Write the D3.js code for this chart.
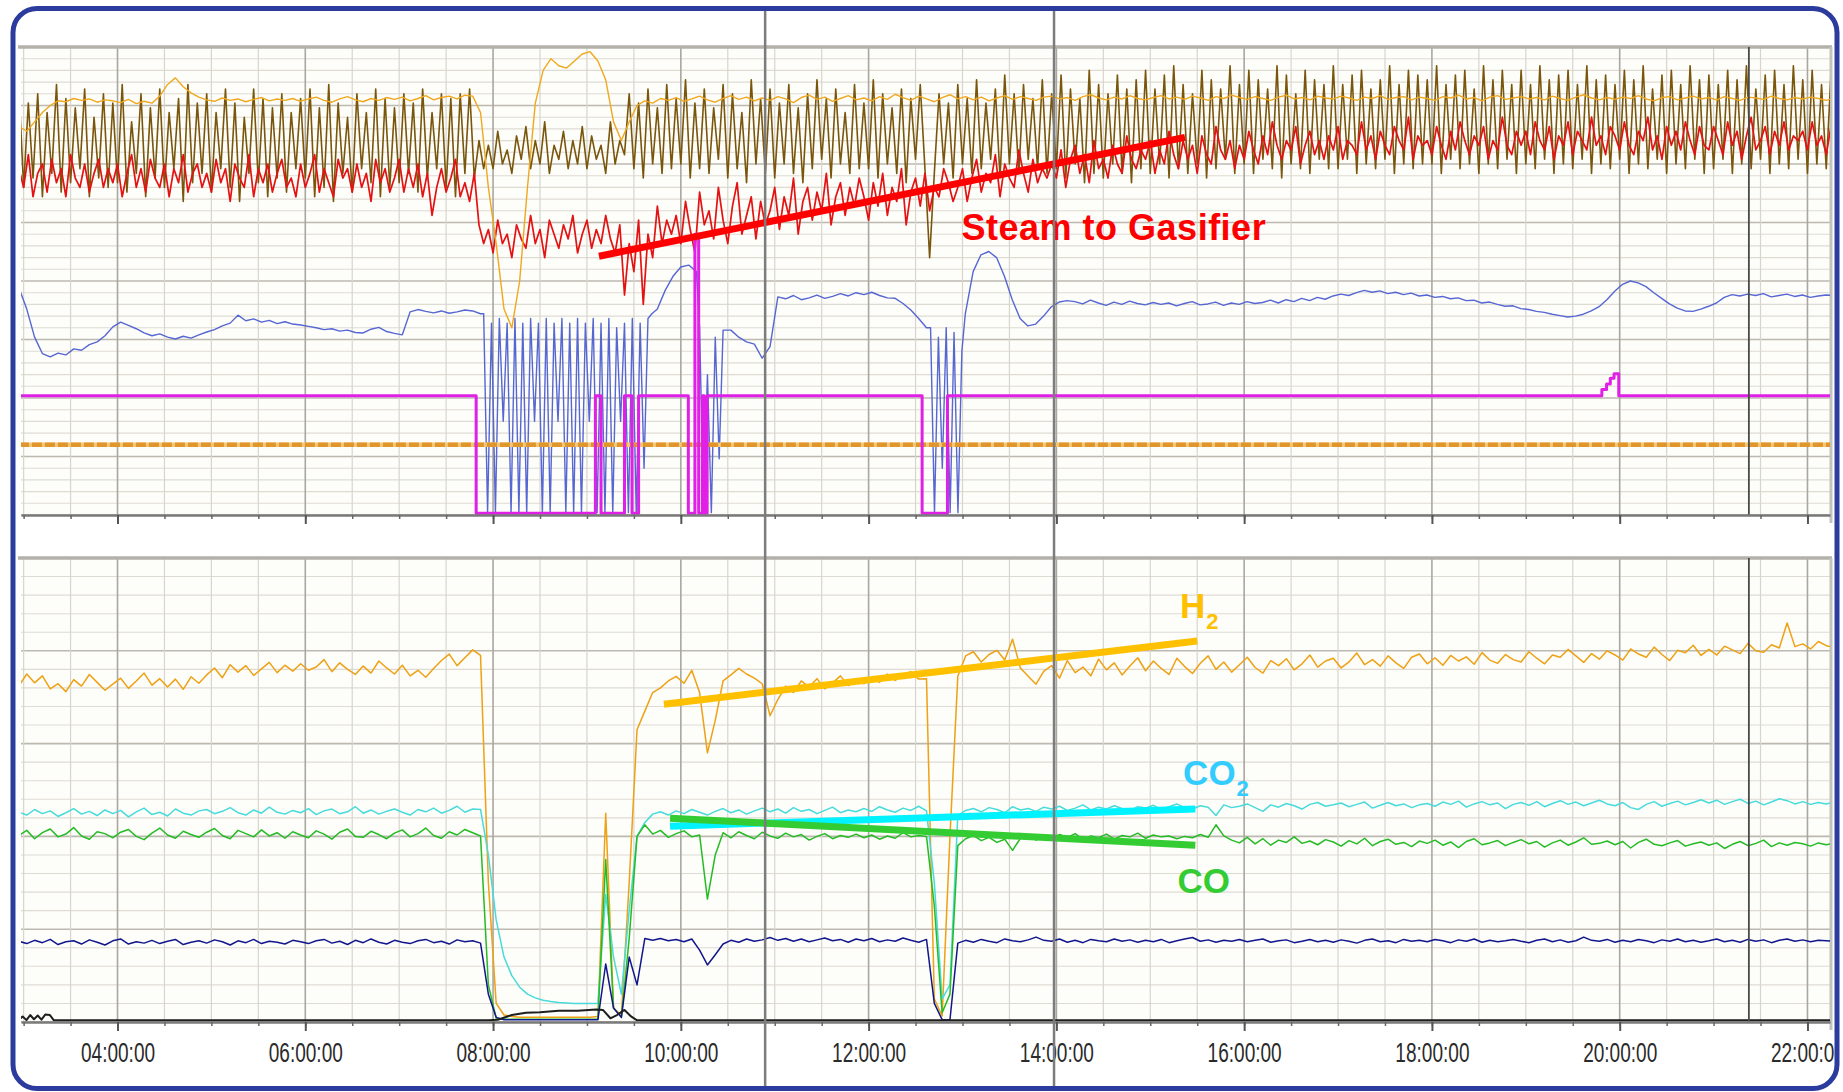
<!DOCTYPE html>
<html>
<head>
<meta charset="utf-8">
<script src="https://cdn.jsdelivr.net/npm/d3@7"></script>
<style>
  body { margin: 0; background: #fff; }
  svg { display: block; }
</style>
</head>
<body>
<div id="container"></div>
<script>
const width = 1843;
const height = 1092;

// time axis (hours of day)
const labelHours = [4, 6, 8, 10, 12, 14, 16, 18, 20, 22];
const tickLabels = ["04:00:00", "06:00:00", "08:00:00", "10:00:00", "12:00:00",
                    "14:00:00", "16:00:00", "18:00:00", "20:00:00", "22:00:00"];
const cursorHours = [10.898, 13.975];
const markerHour = 21.376;

// ---------- upper panel (percent of scale) ----------
// brown, every 3 min from 02:57
const brownVals = [
  91,70,88,72,90,68,86,73,92,69,89,71,87,74,91,68,85,72,90,70,
  88,71,92,69,84,73,90,68,87,72,91,70,86,74,89,67,92,71,88,73,
  90,69,86,74,91,70,88,67,85,73,91,71,89,68,87,72,90,69,86,74,
  89,72,91,68,87,70,92,67,88,73,85,69,90,74,86,71,91,68,89,70,
  87,71,90,73,88,69,91,72,86,74,90,70,89,68,90,73,91,72,80,74,
  79,74,82,75,78,73,81,76,83,74,80,75,84,73,79,76,82,74,80,75,
  83,74,81,76,79,73,84,75,80,77,90,74,88,72,91,75,87,73,92,74,
  89,75,93,72,88,74,91,73,87,76,92,72,90,74,86,71,93,75,89,73,
  91,72,88,75,92,73,87,71,90,74,93,76,89,72,91,75,86,73,92,74,
  88,74,93,72,90,75,87,73,91,71,89,76,92,74,55,73,90,75,88,72,
  92,75,89,73,93,74,88,76,91,72,94,75,90,73,92,76,89,74,93,73,
  90,74,94,72,91,75,89,71,95,73,92,72,90,75,94,73,91,71,93,74,
  95,73,91,75,94,72,96,74,92,73,90,75,95,72,93,74,91,76,96,73,
  92,75,95,73,93,76,91,74,96,72,94,75,90,74,95,73,93,76,92,74,
  96,74,92,76,94,73,95,75,91,74,93,76,96,73,92,75,95,74,94,75,
  93,75,96,73,92,76,94,74,95,75,91,73,96,75,93,74,95,76,92,73,
  95,75,92,74,96,76,93,73,94,75,95,74,92,76,96,73,93,75,94,74,
  92,76,95,73,93,75,96,74,91,76,94,73,95,75,92,74,96,76,93,73,
  94,74,92,76,95,73,93,75,96,74,91,76,94,73,95,75,92,74,96,76,
  93,73,95,75,92,74,94
];
// steam to gasifier (red), every 3 min
const steamVals = [
  74,70,77,68,73,75,69,76,71,74,68,77,72,70,75,69,73,76,70,74,
  71,75,68,73,77,70,74,69,76,72,70,75,68,74,71,77,69,73,75,70,
  73,69,76,71,74,67,75,72,70,77,68,74,71,75,69,73,76,70,72,68,
  75,70,73,77,69,74,71,68,76,72,74,69,75,70,73,67,76,71,74,69,
  72,76,69,74,70,75,68,73,64,70,74,69,72,76,68,71,67,73,62,58,
  61,56,63,58,60,55,62,59,57,64,58,61,55,63,60,57,62,59,64,56,
  60,63,57,61,58,64,59,56,62,47,58,52,63,45,60,55,66,58,63,60,
  64,58,67,61,56,69,62,65,59,70,63,58,66,71,60,64,68,59,67,62,
  65,70,61,68,64,72,60,67,70,63,69,65,73,62,68,71,64,70,66,72,
  68,63,71,66,73,64,70,67,74,62,69,72,66,73,65,70,68,74,71,67,
  70,74,67,72,76,69,73,71,77,68,75,72,70,78,73,69,76,71,74,72,
  75,72,78,70,76,79,73,77,71,80,74,76,72,79,75,73,81,76,74,78,
  76,80,73,78,75,82,77,74,80,76,79,73,81,77,75,83,78,76,80,74,
  79,76,82,78,75,81,77,84,79,76,80,78,83,75,79,82,77,80,76,81,
  78,83,76,80,79,77,84,78,81,76,82,79,77,83,80,78,85,76,81,79,
  80,77,83,79,76,82,78,84,80,77,81,79,83,76,80,78,85,79,77,82,
  79,82,77,84,80,78,83,76,81,79,84,77,82,80,78,85,79,81,77,83,
  81,78,84,79,77,82,80,85,78,81,76,83,79,82,78,84,80,77,83,79,
  78,83,80,77,84,79,82,76,81,85,78,80,83,77,82,79,84,78,81,80,
  82,78,84,79,81,77,83
];
// thin gold trace, every 5 min
const goldVals = [
  83,82,84,86,87.5,88.5,88.3,89,88.6,88.9,88.2,88.7,
  88.5,88.1,88.8,87.9,88.4,88.0,89.5,92,93.4,91.5,90.2,89.3,
  88.7,88.4,89.1,88.6,88.9,88.3,88.8,89.2,88.5,88.9,88.6,89.0,
  88.4,88.9,89.3,88.6,88.2,88.9,89.4,88.7,88.3,89.0,88.6,89.2,
  88.8,89.3,88.5,89.0,89.6,88.7,89.2,89.5,88.9,89.7,89.5,86,
  70,58,44,40,50,70,88,95,97.5,96,95.5,97,
  98.5,99,97,93,84,80,84,87.5,88.5,88,89,88.6,
  89.2,88.4,88.9,89.5,88.7,88.2,89.0,89.6,88.8,89.3,88.5,89.1,
  88.6,89.4,88.9,88.1,89.2,89.7,88.8,89.3,88.4,89.0,89.6,88.7,
  89.1,88.5,89.4,88.8,89.9,89.2,88.6,89.5,88.9,88.3,89.2,89.8,
  88.9,89.4,88.7,89.3,88.5,89.1,89.6,88.8,89.4,89.0,88.6,89.3,
  89.5,88.9,89.2,88.6,89.4,89.8,89.1,88.7,89.3,88.9,89.6,89.0,
  88.7,89.2,89.6,88.9,89.3,88.8,89.5,89.1,88.6,89.4,89.0,89.7,
  89.2,88.8,89.4,89.0,88.6,89.3,89.7,88.9,89.2,88.7,89.5,89.1,
  88.9,89.5,89.1,88.6,89.3,89.0,89.6,88.8,89.2,89.4,88.7,89.3,
  89.0,88.6,89.4,89.1,89.7,88.9,89.2,88.5,89.3,89.6,88.8,89.1,
  89.4,88.9,89.2,88.7,89.5,89.0,88.6,89.3,89.8,89.1,88.7,89.2,
  88.8,89.3,89.0,89.6,88.9,88.5,89.2,89.4,88.7,89.1,89.5,88.9,
  89.2,88.7,89.4,89.0,88.6,89.3,89.1,88.8,89.5,89.0,88.7,89.2,
  88.9,89.3,89.0,88.6,89.1
];
// blue trace, in pieces (start hour, step in minutes, values)
const blueA = [48.5,44,38,34.5,33.8,34.6,34.2,35.5,35.2,36.4,37.0,38.3,
  40.2,41.2,40.5,39.8,38.9,38.3,38.7,38.0,37.6,38.2,37.8,38.5,
  39.1,39.6,40.4,41.0,42.7,41.5,41.9,41.2,41.6,40.9,41.3,40.8,
  40.6,40.3,40.0,39.6,39.8,39.3,39.5,39.0,38.9,39.7,40.1,39.2,
  38.8,38.5,43.4,43.9,43.5,43.2,43.6,43.1,43.4,43.8,43.6,43.0];
const blueP1 = [43,0.5,41,0.5,42,20,41,0.5,42,0.5,41,0.5,42,20,41,0.5,42,0.5,41,20,
  42,0.5,41,0.5,42,0.5,41,20,42,0.5,41,0.5,42,0.5,40,20,41,0.5,42,0.5,41,10,42,43];
const blueB = [44,48,51,53,53.4,52];
const blueP2 = [40,0.5,30,0.5,38,12];
const blueC = [39.5,39.5,38,37,36.5,33.5,36,46.6,46.2,46.9,46.0,46.4,47.0,46.3,46.7,
  47.3,46.8,47.5,47.1,47.6,46.9,46.4,46.3,45.2,43.8,42,40];
const blueP3 = [40,0.5,38,10,40,0.5,39,0.5,35];
const blueD = [43,52,55.6,56.3,55,51,46,42,40.4,40.8,42.5,44.5,45.5,45.8,
  45.6,45.1,45.9,45.3,44.8,45.5,45.0,45.7,45.2,44.9,45.4,45.0,
  45.3,44.7,45.2,45.6,44.9,45.1,45.5,44.8,45.3,45.0,45.6,45.2,
  45.4,45.9,45.3,46.0,45.6,46.3,45.8,46.5,46.1,46.8,47.2,46.9,
  47.5,48.0,47.6,47.9,47.3,47.6,47.1,47.4,46.8,47.0,46.5,46.7,
  46.2,46.4,45.8,45.9,45.3,45.5,45.0,44.6,44.7,44.1,43.9,43.5,
  43.3,42.9,42.6,42.3,42.5,42.9,43.6,44.5,46.0,47.8,49.3,50.0,
  49.6,48.8,47.5,46.3,45.1,44.2,43.6,43.5,44.0,44.6,45.3,46.5,
  47.1,46.8,47.2,46.9,47.3,46.6,46.9,47.2,46.7,47.0,46.5,46.8,
  47.0,46.9];
// magenta on/off trace [hour, value], stepped
const magentaPts = [[2.95,25.5],[7.82,0.4],[9.09,25.5],[9.15,0.4],[9.4,25.5],[9.48,0.4],
  [9.55,25.5],[10.08,0.4],[10.15,60],[10.19,0.4],[10.23,25.5],[10.25,0.4],[10.28,25.5],
  [12.57,0.4],[12.84,25.5],[19.77,25.5],[19.81,26.8],[19.86,28],[19.9,29.2],[19.94,30.2],
  [19.99,25.5],[22.3,25.5]];
const orangePts = [[2.95,15],[22.3,15]];

// ---------- lower panel (percent of scale) ----------
// every 5 min from 02:57
const h2Vals = [
  72.5,75.0,73.1,74.6,71.8,72.9,71.2,73.8,72.4,74.9,73.2,71.5,
  72.8,74.1,71.9,73.5,75.2,72.6,74.0,72.2,73.9,71.7,74.4,73.0,
  74.8,76.3,74.2,77.0,75.4,76.8,74.7,76.1,77.5,75.3,76.9,75.6,
  77.2,75.8,76.5,78.1,75.5,77.4,76.0,74.9,76.7,75.2,77.8,76.3,
  75.0,76.9,74.6,75.8,74.3,76.2,77.9,79.3,76.8,78.5,80.2,79.0,
  30,4,1.5,1.2,1.0,1.0,1.0,1.0,1.0,1.0,1.0,1.0,
  1.0,1.0,1.2,45,3,1.5,30,63,67,71,72,73.5,
  74.5,73.0,75.8,71.0,58.0,65.0,73.5,74.8,76.2,75.0,74.1,72.9,
  66.0,69.5,72.4,71.0,73.5,72.2,74.0,71.8,73.1,74.6,72.5,73.8,
  72.9,74.3,73.2,75.0,73.6,74.8,75.5,73.9,74.0,5.0,1.3,40,
  74.5,78.9,79.8,77.6,79.2,80.1,78.0,82.5,76.3,74.5,72.8,75.6,
  76.8,74.1,77.9,75.3,76.5,74.6,78.2,75.9,77.4,74.8,76.7,78.5,
  75.7,77.8,76.2,74.9,78.4,76.6,75.1,77.3,78.9,76.0,77.6,75.4,
  77.0,78.6,76.4,75.2,77.9,76.8,78.3,75.9,77.2,79.1,76.5,77.8,
  78.4,76.3,77.6,79.5,77.0,78.1,76.7,78.9,77.4,76.2,78.6,79.3,
  77.2,78.5,76.9,79.0,77.8,78.7,77.1,79.6,78.0,77.3,79.2,78.1,
  77.6,79.8,78.4,77.2,79.1,78.6,80.3,78.9,77.5,79.4,78.2,80.0,
  79.1,78.0,80.4,79.3,78.6,80.8,79.2,77.9,80.1,79.6,81.2,79.0,
  80.3,79.1,81.0,80.2,79.4,81.6,80.0,79.7,81.3,80.6,86.0,80.9,
  81.5,80.4,82.0,81.1,80.7
];
const co2Vals = [
  45.2,44.6,45.8,44.9,45.5,44.3,45.1,46.0,44.8,45.4,44.5,45.7,
  44.9,45.6,44.2,45.3,46.1,44.7,45.2,44.4,45.9,45.0,44.6,45.5,
  45.8,44.9,45.4,46.2,45.1,44.6,45.7,45.0,46.3,45.2,44.8,45.6,
  45.1,46.0,44.7,45.5,45.9,44.9,45.3,46.4,45.0,45.7,44.8,45.4,
  45.9,45.2,44.6,45.8,45.3,46.1,45.0,45.6,46.5,45.2,45.9,45.8,
  36,22,14,10,7.5,6,5.2,4.7,4.4,4.2,4.1,4.0,
  4.0,4.0,4.0,27.5,14,6,24,40,43,44.8,45.3,44.6,
  45.5,44.9,45.8,45.2,44.6,45.4,46.0,45.1,45.7,44.8,45.5,46.1,
  45.3,45.9,45.0,46.2,45.4,45.8,44.9,45.6,46.3,45.1,45.7,45.3,
  46.0,45.4,46.4,45.7,45.2,46.1,45.6,46.5,45.5,30,5,8,
  44.5,45.6,46.0,45.3,46.2,45.8,45.1,46.4,45.7,46.0,45.4,46.3,
  45.9,46.5,45.6,46.1,46.8,45.7,46.3,45.9,46.6,46.0,45.5,46.4,
  46.1,46.7,45.8,46.4,47.0,46.2,45.9,46.6,46.3,44.5,46.8,46.2,
  46.5,47.0,46.2,45.4,46.8,46.3,47.1,46.6,45.9,46.9,47.3,46.5,
  46.8,47.2,46.4,46.9,47.4,46.1,46.7,47.3,46.6,47.0,46.2,46.8,
  47.1,46.5,47.4,46.9,47.6,46.3,47.0,47.5,46.8,47.2,46.0,46.9,
  47.3,46.7,47.5,46.4,47.1,47.7,46.9,47.4,46.6,47.2,47.8,47.0,
  46.6,47.3,46.2,45.8,46.9,47.5,46.5,47.1,47.6,46.8,47.3,47.9,
  47.2,47.8,46.9,47.5,48.0,47.1,47.6,46.8,47.4,48.1,47.7,47.0,
  47.5,46.9,47.3,47.0,47.4
];
const coVals = [
  40.2,41.3,39.5,40.8,41.6,39.9,40.5,41.9,40.1,39.4,41.0,40.6,
  39.7,40.9,41.5,40.0,39.3,40.7,41.8,40.3,39.6,41.1,40.4,39.8,
  40.9,41.7,40.2,39.5,41.3,40.6,39.9,41.4,40.1,40.8,39.6,41.0,
  40.3,39.7,41.2,40.5,39.4,40.9,41.6,40.0,39.8,41.1,40.4,39.5,
  40.7,41.4,39.9,40.6,41.8,40.2,39.6,41.0,40.3,41.5,40.8,40.1,
  8,0.8,0.6,0.6,0.6,0.6,0.6,0.6,0.6,0.6,0.6,0.6,
  0.6,0.6,0.6,35,3,1,18,40,42.5,40.5,41.3,39.8,
  40.6,41.2,39.9,40.3,26.5,36,40.8,39.7,41.0,40.2,39.5,40.9,
  40.1,39.6,40.7,39.9,40.4,39.2,40.0,40.6,39.5,40.2,39.8,40.5,
  39.7,40.3,39.4,40.1,39.6,40.8,39.9,40.2,40.0,25,2,6,
  38,39.5,40.2,39.1,39.8,38.7,39.4,37.0,39.6,40.3,39.2,40.0,
  39.5,40.4,39.8,40.6,39.3,40.1,39.7,40.5,39.4,40.2,39.9,40.7,
  39.6,40.3,39.9,40.1,39.5,40.0,39.7,40.4,39.8,42.5,40.1,39.2,
  38.6,39.8,38.4,39.5,38.1,39.2,38.7,39.9,38.5,39.0,38.2,39.3,
  38.8,37.9,39.1,38.4,39.6,38.0,38.9,39.4,38.3,38.7,37.8,39.0,
  38.5,39.2,38.1,38.8,37.6,38.9,39.5,38.2,38.6,39.1,38.0,38.7,
  39.3,38.4,38.9,37.7,38.6,39.2,38.1,38.8,39.7,38.3,38.5,39.0,
  38.2,38.9,37.5,38.7,39.4,38.3,38.0,38.6,39.1,37.9,38.4,38.8,
  38.1,38.6,37.4,38.3,38.9,38.0,38.5,39.2,37.8,38.6,38.1,38.7,
  38.4,37.9,38.6,38.2,38.5
];
const navyVals = [
  17.4,16.9,17.6,17.1,17.8,16.7,17.3,17.5,16.8,17.7,17.2,16.6,
  17.5,17.9,16.8,17.3,17.0,17.6,16.9,17.4,17.8,16.7,17.2,17.5,
  17.0,17.7,17.3,16.6,17.5,17.1,17.8,16.9,17.4,17.2,16.8,17.6,
  17.3,16.9,17.5,17.8,17.0,17.4,16.7,17.6,17.1,17.9,17.2,16.8,
  17.6,17.2,16.9,17.5,17.8,17.1,17.4,16.8,17.7,17.3,17.5,17.0,
  6,1,0.5,0.5,0.5,0.5,0.5,0.5,0.5,0.5,0.5,0.5,
  0.5,0.5,0.5,12.5,3,1,14,8,18,17.6,18.0,17.5,
  17.8,17.3,17.9,15.5,12.3,14.5,16.8,17.6,17.2,17.9,17.4,17.7,
  18.2,17.6,18.0,17.4,17.9,17.3,17.7,18.1,17.5,17.8,17.2,17.9,
  17.5,18.0,17.3,17.7,17.4,18.1,17.6,17.2,17.8,4,0.5,0.5,
  17.0,17.6,17.2,17.8,17.4,17.1,17.9,17.5,17.3,17.7,18.3,17.6,
  17.4,17.9,17.2,17.6,17.1,17.8,17.5,17.3,17.9,17.4,17.7,17.2,
  17.6,17.3,17.8,17.1,17.5,17.9,18.2,17.4,17.7,17.2,17.6,17.4,
  17.8,17.3,17.6,17.9,17.2,17.5,17.7,17.1,17.4,17.8,17.3,17.6,
  17.2,17.7,17.4,17.0,17.6,17.9,17.3,17.5,17.1,17.8,17.4,17.6,
  17.3,17.8,17.5,17.1,17.7,17.4,17.9,17.2,17.6,17.3,17.5,17.8,
  17.4,17.1,17.6,17.9,17.3,17.7,17.2,17.5,18.3,17.6,17.4,17.8,
  17.2,17.6,17.3,17.8,17.5,17.1,17.7,17.4,17.9,17.3,17.6,17.2,
  17.5,17.9,17.3,17.6,17.2,17.8,17.4,17.7,17.1,17.6,17.9,17.4,
  17.7,17.3,17.6,17.5,17.4
];
const blackPts = [[2.95,0.5],[2.99,1.2],[3.03,0.4],[3.07,1.5],[3.11,0.6],[3.15,1.4],[3.19,0.5],
  [3.23,1.6],[3.28,1.5],[3.32,0.4],[7.95,0.4],[8.05,0.5],[8.2,1.5],[8.35,2.0],[8.5,2.1],
  [8.7,2.4],[8.9,2.4],[9.1,2.7],[9.17,2.6],[9.25,0.8],[9.32,1.5],[9.4,2.6],[9.47,1.2],
  [9.53,0.4],[22.3,0.4]];

// hand drawn trend marks and their labels [hour, value]
const steamTrend = [[9.128, 55.3], [15.37, 80.7]];
const h2Trend = [[9.82, 68.5], [15.5, 82.1]];
const co2Trend = [[9.885, 42.2], [15.48, 45.9]];
const coTrend = [[9.885, 43.9], [15.48, 38.1]];

// build [hour, value] points from a regular sample run
const grid = (start, stepMin, vals) => vals.map((v, i) => [start + i * stepMin / 60, v]);

const x = d3.scaleLinear().domain([2.972, 22.24]).range([21, 1830]);
const yTop = d3.scaleLinear().domain([0, 100]).range([515, 47]);
const yBot = d3.scaleLinear().domain([0, 100]).range([1022, 558]);

const svg = d3.create("svg")
  .attr("width", width)
  .attr("height", height)
  .attr("viewBox", [0, 0, width, height]);

svg.append("rect").attr("width", width).attr("height", height).attr("fill", "#fff");

const defs = svg.append("defs");

const panels = [
  {id: "top", y: yTop, step: 2.5, major: 12.5},
  {id: "bot", y: yBot, step: 4, major: 20}
];

const halfHours = d3.range(3, 22.01, 0.5);

panels.forEach(p => {
  const [y0, y1] = p.y.range();
  defs.append("clipPath").attr("id", "clip-" + p.id)
    .append("rect").attr("x", x.range()[0]).attr("y", y1)
    .attr("width", x.range()[1] - x.range()[0]).attr("height", y0 - y1);

  const g = svg.append("g");
  g.append("rect")
    .attr("x", x.range()[0]).attr("y", y1)
    .attr("width", x.range()[1] - x.range()[0]).attr("height", y0 - y1)
    .attr("fill", "#fdfdf9");

  const isMajor = d => Math.abs(d / p.major - Math.round(d / p.major)) < 1e-6;
  const levels = d3.range(0, 100.01, p.step);
  g.selectAll(".hl").data(levels).join("line")
    .attr("x1", x.range()[0]).attr("x2", x.range()[1])
    .attr("y1", d => p.y(d)).attr("y2", d => p.y(d))
    .attr("stroke", d => isMajor(d) ? "#bcb9b1" : "#dedbd3")
    .attr("stroke-width", d => isMajor(d) ? 1.6 : 1.1);

  g.selectAll(".vl").data(halfHours).join("line")
    .attr("x1", d => x(d)).attr("x2", d => x(d))
    .attr("y1", y1).attr("y2", y0)
    .attr("stroke", d => d % 2 === 0 ? "#aaa7a0" : "#d8d5cd")
    .attr("stroke-width", d => d % 2 === 0 ? 1.6 : 1.2);

  // frame lines
  g.append("line").attr("x1", x.range()[0] - 3).attr("x2", x.range()[1] + 2)
    .attr("y1", y1).attr("y2", y1).attr("stroke", "#b3b1aa").attr("stroke-width", 3.5);
  g.append("line").attr("x1", x.range()[1] + 1).attr("x2", x.range()[1] + 1)
    .attr("y1", y1).attr("y2", y0 + 8).attr("stroke", "#c4c2bc").attr("stroke-width", 3);
});

const line = (yScale, curve) => d3.line()
  .x(d => x(d[0]))
  .y(d => yScale(d[1]))
  .curve(curve || d3.curveLinear);

const topSeries = [
  {pts: grid(2.95, 3, brownVals), color: "#7a560c", w: 1.6},
  {pts: grid(2.95, 3, steamVals), color: "#e41212", w: 1.7},
  {pts: grid(2.95, 5, goldVals), color: "#f0a820", w: 1.4},
  {pts: [].concat(grid(2.95, 5, blueA), grid(7.9, 2.5, blueP1), grid(9.75, 5, blueB),
                  grid(10.2, 2.5, blueP2), grid(10.45, 5, blueC), grid(12.66, 2.5, blueP3),
                  grid(13.03, 5, blueD)), color: "#5666d2", w: 1.4},
  {pts: orangePts, color: "#f2c77a", w: 4.5},
  {pts: orangePts, color: "#e0962a", w: 4.5, dash: "10,3"},
  {pts: magentaPts, color: "#e020e6", w: 3, curve: d3.curveStepAfter}
];

const botSeries = [
  {pts: grid(2.95, 5, h2Vals), color: "#eea114", w: 1.5},
  {pts: grid(2.95, 5, co2Vals), color: "#47dbdb", w: 1.5},
  {pts: grid(2.95, 5, coVals), color: "#25bb25", w: 1.5},
  {pts: grid(2.95, 5, navyVals), color: "#12168c", w: 1.5},
  {pts: blackPts, color: "#1e1e1e", w: 2}
];

function drawSeries(list, yScale, clipId) {
  const g = svg.append("g").attr("clip-path", `url(#${clipId})`);
  list.forEach(s => {
    g.append("path")
      .attr("d", line(yScale, s.curve)(s.pts))
      .attr("fill", "none")
      .attr("stroke", s.color)
      .attr("stroke-width", s.w)
      .attr("stroke-linejoin", "round")
      .attr("stroke-dasharray", s.dash || null);
  });
  return g;
}

drawSeries(topSeries, yTop, "clip-top");
drawSeries(botSeries, yBot, "clip-bot");

// dark marker line inside the panels
panels.forEach(p => {
  svg.append("line")
    .attr("x1", x(markerHour)).attr("x2", x(markerHour))
    .attr("y1", p.y.range()[1]).attr("y2", p.y.range()[0])
    .attr("stroke", "#4a4a4a").attr("stroke-width", 1.8);
});

// time axes
function drawAxis(yScale, withLabels) {
  const y0 = yScale.range()[0];
  const minor = svg.append("g").attr("transform", `translate(0,${y0})`)
    .call(d3.axisBottom(x).tickValues(halfHours).tickSize(4).tickSizeOuter(0).tickFormat(""));
  minor.select(".domain").attr("stroke", "#7a7a7a").attr("stroke-width", 2.5);
  minor.selectAll(".tick line").attr("stroke", "#666").attr("stroke-width", 1.5);

  const major = svg.append("g").attr("transform", `translate(0,${y0})`)
    .call(d3.axisBottom(x).tickValues(labelHours).tickSize(9)
      .tickFormat((d, i) => withLabels ? tickLabels[i] : ""));
  major.attr("font-family", "'Liberation Sans', Arial, sans-serif").attr("font-size", 28);
  major.select(".domain").remove();
  major.selectAll(".tick line").attr("stroke", "#555").attr("stroke-width", 2);
  major.selectAll(".tick text")
    .attr("y", 0).attr("dy", null)
    .attr("fill", "#2a2a2a")
    .attr("transform", "translate(0,40) scale(0.68,1)");
}

drawAxis(yTop, false);
drawAxis(yBot, true);

// trend marks
const marks = svg.append("g");
[[steamTrend, yTop, "#ff0000"], [h2Trend, yBot, "#ffc000"],
 [co2Trend, yBot, "#00f2ff"], [coTrend, yBot, "#33cc33"]].forEach(([pts, ys, c]) => {
  marks.append("path")
    .attr("d", line(ys)(pts))
    .attr("fill", "none").attr("stroke", c).attr("stroke-width", 7).attr("stroke-linecap", "butt");
});

const font = "'Liberation Sans', Arial, Helvetica, sans-serif";
marks.append("text")
  .attr("x", x(12.99)).attr("y", yTop(58.8))
  .attr("font-family", font).attr("font-weight", "bold").attr("font-size", 36)
  .attr("letter-spacing", 0.5)
  .attr("fill", "#ff0000").text("Steam to Gasifier");

function chemLabel(hour, value, base, sub, color) {
  const t = marks.append("text")
    .attr("x", x(hour)).attr("y", yBot(value))
    .attr("font-family", font).attr("font-weight", "bold").attr("font-size", 35)
    .attr("fill", color);
  t.append("tspan").text(base);
  if (sub) t.append("tspan").attr("font-size", 22).attr("dy", 11).attr("dx", 1).text(sub);
}
chemLabel(15.316, 87.1, "H", "2", "#ffc000");
chemLabel(15.35, 51.1, "CO", "2", "#33ccff");
chemLabel(15.29, 27.8, "CO", null, "#33cc33");

// cursor lines over the whole window
svg.append("g")
  .selectAll("line").data(cursorHours).join("line")
  .attr("x1", d => x(d)).attr("x2", d => x(d))
  .attr("y1", 0).attr("y2", height)
  .attr("stroke", "#7c7c7c").attr("stroke-width", 2.5);

// white outside the rounded frame, then the frame itself
svg.append("path")
  .attr("d", `M0,0H${width}V${height}H0Z M37,8.5 H1813 A24,24 0 0 1 1837,32.5 V1064.5 A24,24 0 0 1 1813,1088.5 H37 A24,24 0 0 1 13,1064.5 V32.5 A24,24 0 0 1 37,8.5 Z`)
  .attr("fill", "#fff").attr("fill-rule", "evenodd");
svg.append("rect")
  .attr("x", 13).attr("y", 8.5).attr("width", 1824).attr("height", 1080).attr("rx", 24)
  .attr("fill", "none").attr("stroke", "#2c3b9e").attr("stroke-width", 5);

document.getElementById("container").appendChild(svg.node());
</script>
</body>
</html>
